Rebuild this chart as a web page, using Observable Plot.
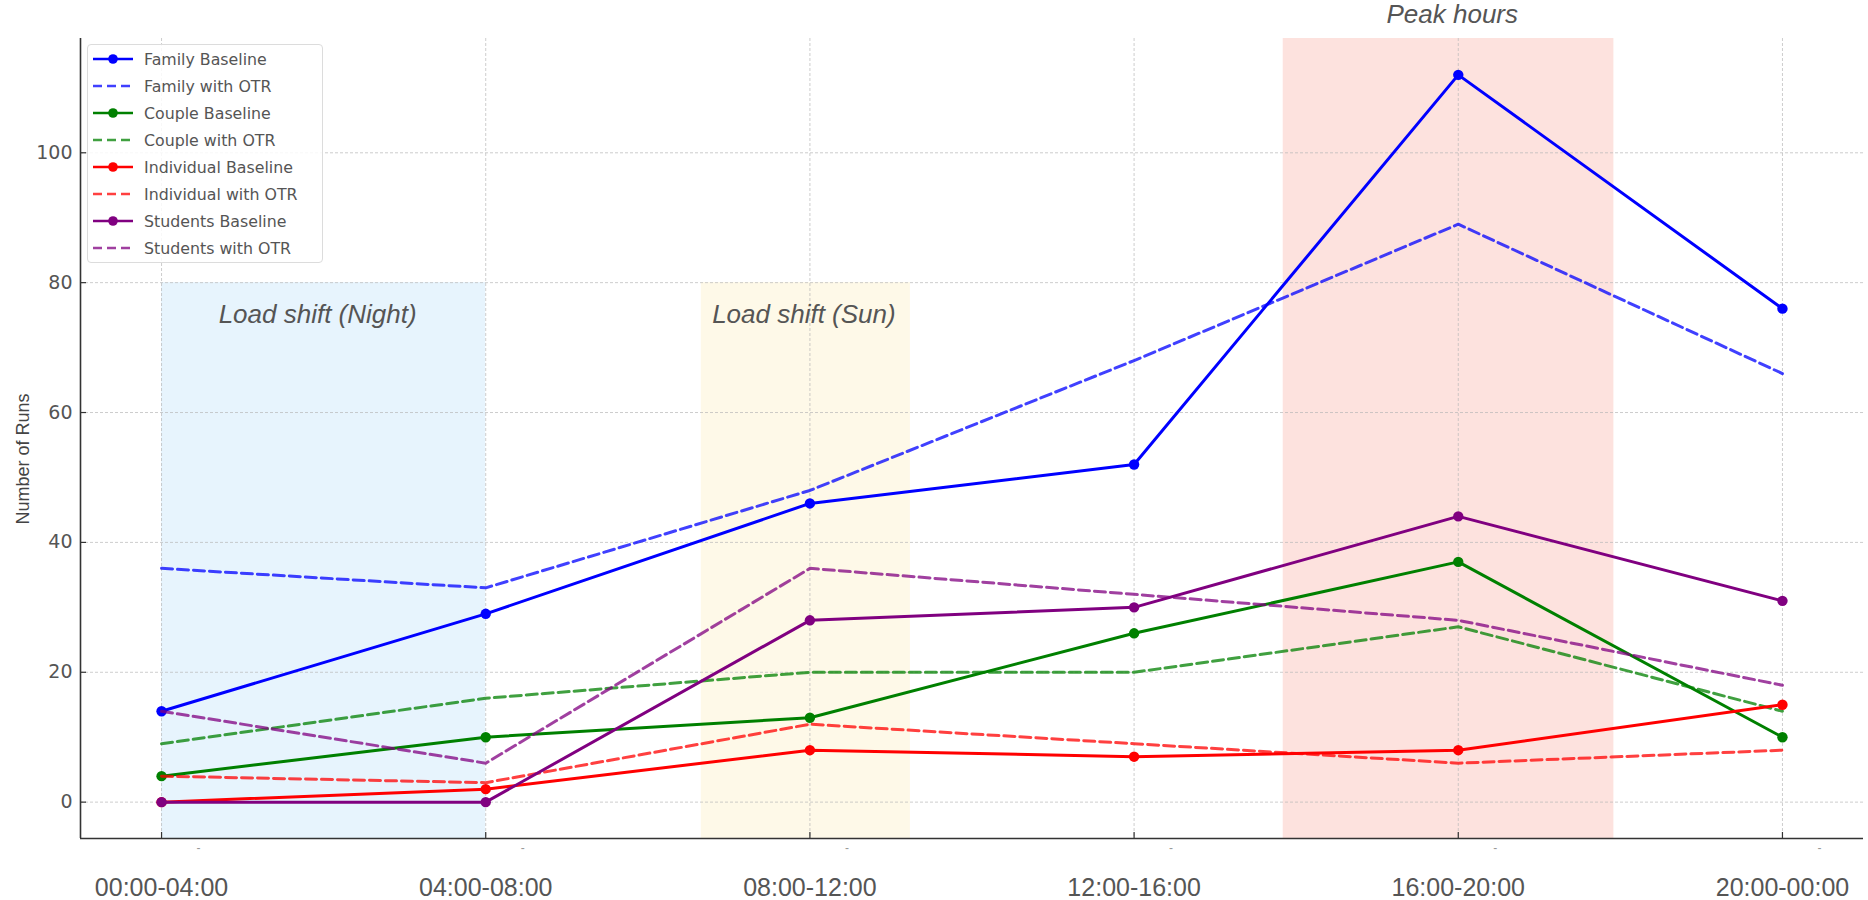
<!DOCTYPE html>
<html>
<head>
<meta charset="utf-8">
<script src="https://cdn.jsdelivr.net/npm/d3@7"></script>
<script src="https://cdn.jsdelivr.net/npm/@observablehq/plot@0.6"></script>
<style>
  body { margin: 0; background: #fff; }
  #wrap { position: relative; width: 1868px; height: 900px; overflow: hidden; }
  #legend {
    position: absolute; left: 87px; top: 44px; width: 236px; height: 219px;
    box-sizing: border-box; border: 1px solid #dcdcdc; border-radius: 4px;
    background: rgba(255,255,255,0.85); padding-top: 0.5px;
    font-family: "DejaVu Sans", sans-serif; font-size: 15.8px; color: #555;
  }
  .row { display: flex; align-items: center; height: 27px; }
  .row svg { margin-left: 5px; margin-right: 11px; flex: none; }
  #ylabel {
    position: absolute; left: 23px; top: 459px; white-space: nowrap;
    transform: translate(-50%, -50%) rotate(-90deg);
    font-family: "Liberation Sans", Arial, sans-serif; font-size: 18px; color: #444;
  }
</style>
</head>
<body>
<div id="wrap">
  <div id="chart"></div>
  <div id="legend"></div>
  <div id="ylabel"></div>
</div>
<script>
// ---- data ----
const timeSlots = ["00:00-04:00", "04:00-08:00", "08:00-12:00", "12:00-16:00", "16:00-20:00", "20:00-00:00"];
const familyBaseline     = [14, 29, 46, 52, 112, 76];
const familyOTR          = [36, 33, 48, 68, 89, 66];
const coupleBaseline     = [4, 10, 13, 26, 37, 10];
const coupleOTR          = [9, 16, 20, 20, 27, 14];
const individualBaseline = [0, 2, 8, 7, 8, 15];
const individualOTR      = [4, 3, 12, 9, 6, 8];
const studentsBaseline   = [0, 0, 28, 30, 44, 31];
const studentsOTR        = [14, 6, 36, 32, 28, 18];

const yLabel = "Number of Runs";
const yTicks = [0, 20, 40, 60, 80, 100];
const xTicks = [0, 1, 2, 3, 4, 5];
const xDomain = [-0.25, 5.25];
const yDomain = [-5.6, 117.6];

const spans = [
  { x1: 0,     x2: 1,    y2: 80,    fill: "#e7f4fd" },
  { x1: 1.665, x2: 2.31, y2: 80,    fill: "#fef9e8" },
  { x1: 3.46,  x2: 4.48, y2: 117.6, fill: "#fde2de" }
];
const annotations = [
  { text: "Load shift (Night)", x: 0.5, y: 75 },
  { text: "Load shift (Sun)",   x: 2,   y: 75 },
  { text: "Peak hours",         x: 4,   y: 121.2 }
];

const series = [
  { name: "Family Baseline",     values: familyBaseline,     color: "#0000ff", dashed: false },
  { name: "Family with OTR",     values: familyOTR,          color: "#0000ff", dashed: true },
  { name: "Couple Baseline",     values: coupleBaseline,     color: "#008000", dashed: false },
  { name: "Couple with OTR",     values: coupleOTR,          color: "#008000", dashed: true },
  { name: "Individual Baseline", values: individualBaseline, color: "#ff0000", dashed: false },
  { name: "Individual with OTR", values: individualOTR,      color: "#ff0000", dashed: true },
  { name: "Students Baseline",   values: studentsBaseline,   color: "#800080", dashed: false },
  { name: "Students with OTR",   values: studentsOTR,        color: "#800080", dashed: true }
];

const W = 1868, H = 900;
const mL = 80, mR = 5, mT = 38, mB = 62;
const frameW = W - mL - mR, frameH = H - mT - mB;
const DASH = "11,5";
const DASH_OPACITY = 0.75;

const seriesMarks = series.flatMap(s => {
  const pts = s.values.map((v, i) => ({ i, v }));
  const marks = [Plot.line(pts, {
    x: "i", y: "v", stroke: s.color, strokeWidth: 3,
    strokeDasharray: s.dashed ? DASH : null,
    strokeOpacity: s.dashed ? DASH_OPACITY : 1
  })];
  if (!s.dashed) marks.push(Plot.dot(pts, { x: "i", y: "v", r: 5.2, fill: s.color, stroke: "none" }));
  return marks;
});

const chart = Plot.plot({
  width: W, height: H,
  marginLeft: mL, marginRight: mR, marginTop: mT, marginBottom: mB,
  style: { fontFamily: "Liberation Sans, Arial, sans-serif", background: "white", overflow: "visible" },
  x: { type: "linear", domain: xDomain, axis: null },
  y: { type: "linear", domain: yDomain, axis: null },
  marks: [
    Plot.rect(spans, { x1: "x1", x2: "x2", y1: () => yDomain[0], y2: "y2", fill: "fill" }),
    Plot.gridX(xTicks, { stroke: "#b8b8b8", strokeOpacity: 0.7, strokeDasharray: "3,2", strokeWidth: 1 }),
    Plot.gridY(yTicks, { stroke: "#b8b8b8", strokeOpacity: 0.7, strokeDasharray: "3,2", strokeWidth: 1 }),
    Plot.text(annotations, {
      x: "x", y: "y", text: "text", fontSize: 26, fontStyle: "italic", dx: -6,
      fill: "#555", fontFamily: "Liberation Sans, Arial, sans-serif"
    }),
    ...seriesMarks,
    // spines
    Plot.ruleX([xDomain[0]], { stroke: "#333", strokeWidth: 1.6 }),
    Plot.ruleY([yDomain[0]], { stroke: "#333", strokeWidth: 1.6 }),
    // inward ticks
    Plot.tickY(yTicks, { y: d => d, insetRight: frameW - 6, stroke: "#333", strokeWidth: 1.2 }),
    Plot.tickX(xTicks, { x: d => d, insetTop: frameH - 6, stroke: "#333", strokeWidth: 1.2 }),
    // small marks under ticks
    Plot.text(xTicks, { x: d => d, y: () => yDomain[0], text: () => "-", dx: 37, dy: 10, fontSize: 12, fill: "#999" }),
    Plot.axisY(yTicks, {
      tickSize: 0, tickPadding: 8, fontSize: 19, color: "#555",
      fontFamily: "DejaVu Sans, sans-serif", label: null
    }),
    Plot.axisX(xTicks, {
      tickSize: 0, tickPadding: 40, fontSize: 25, color: "#555",
      tickFormat: i => timeSlots[i], label: null,
      fontFamily: "Liberation Sans, Arial, sans-serif"
    })
  ]
});
document.getElementById("chart").appendChild(chart);
document.getElementById("ylabel").textContent = yLabel;

// ---- legend ----
const legend = d3.select("#legend");
series.forEach(s => {
  const row = legend.append("div").attr("class", "row");
  const svg = row.append("svg").attr("width", 40).attr("height", 14);
  svg.append("line").attr("x1", 0).attr("x2", 40).attr("y1", 7).attr("y2", 7)
    .attr("stroke", s.color).attr("stroke-width", 2.6)
    .attr("stroke-dasharray", s.dashed ? "9,5" : null)
    .attr("stroke-opacity", s.dashed ? DASH_OPACITY : 1);
  if (!s.dashed) svg.append("circle").attr("cx", 20).attr("cy", 7).attr("r", 4.8).attr("fill", s.color);
  row.append("span").text(s.name);
});
</script>
</body>
</html>
